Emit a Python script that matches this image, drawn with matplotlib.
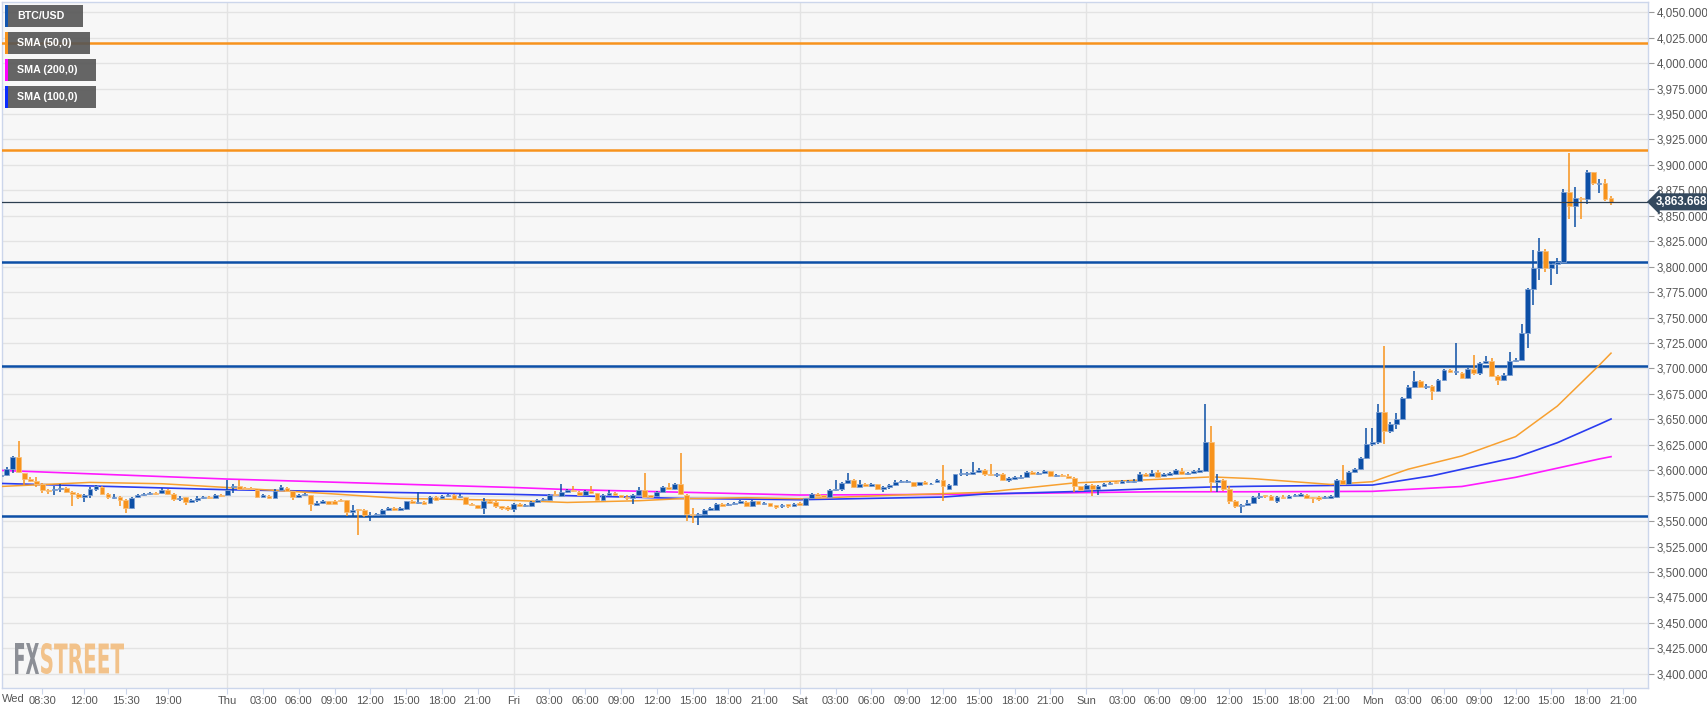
import numpy as np
import pandas as pd
import matplotlib
matplotlib.use('Agg')
import matplotlib.pyplot as plt
from matplotlib.patches import Rectangle, PathPatch
from matplotlib.textpath import TextPath
from matplotlib.font_manager import FontProperties
from matplotlib.ticker import FuncFormatter
from matplotlib.transforms import Affine2D, blended_transform_factory, offset_copy

plt.rcParams['font.family'] = ['Liberation Sans', 'DejaVu Sans']

# BTC/USD 30 minute candles, from Wed 05:00 to Mon 20:00
start = pd.Timestamp('2019-02-13 05:00')

opens = [
    3594, 3595, 3601.5, 3612.5, 3597, 3591, 3589.5, 3586, 3581, 3580.5,
    3581.5, 3582.5, 3579, 3577, 3574, 3575.5, 3581.5, 3583.5, 3577, 3573,
    3573.5, 3571, 3563, 3573.5, 3576, 3577, 3577.5, 3577.5, 3581, 3577,
    3572, 3573.5, 3568.5, 3571, 3572.5, 3574, 3573, 3575.5, 3575.5, 3583,
    3584, 3582.5, 3582, 3581, 3574, 3575, 3573, 3581, 3582.5, 3579.5,
    3574, 3575.5, 3575.5, 3566, 3567.5, 3569.5, 3569.5, 3570.5, 3570.5, 3559,
    3561, 3561, 3555.5, 3556, 3557, 3561, 3563, 3560.5, 3562, 3569.5,
    3568, 3568.5, 3568, 3573.5, 3573, 3575, 3575.5, 3573.5, 3573.5, 3567,
    3565.5, 3563, 3569.5, 3569, 3564.5, 3563.5, 3562, 3567, 3564.5, 3564.5,
    3569, 3570.5, 3571, 3576, 3575, 3579, 3581, 3579, 3576, 3579.5,
    3577.5, 3570.5, 3575.5, 3578, 3575.5, 3573.5, 3572.5, 3575.5, 3581, 3575.5,
    3575, 3579, 3583, 3581.5, 3586, 3576, 3557, 3556, 3556.5, 3560.5,
    3561, 3567, 3565.5, 3566.5, 3567.5, 3569, 3565, 3569.5, 3566.5, 3567.5,
    3565.5, 3564.5, 3566.5, 3564.5, 3567.5, 3565.5, 3573, 3577, 3575.5, 3573.5,
    3581, 3581.5, 3587, 3590.5, 3583.5, 3586.5, 3584.5, 3586, 3581.5, 3583,
    3585, 3588, 3588, 3588, 3585.5, 3588, 3586, 3588, 3590, 3582,
    3585.5, 3596, 3596, 3596.5, 3598, 3600.5, 3596.5, 3595, 3596.5, 3590,
    3591.5, 3592.5, 3593.5, 3598, 3596, 3597, 3599, 3594, 3595, 3594.5,
    3592.5, 3584, 3581.5, 3585.5, 3582, 3584, 3586, 3588, 3587, 3588,
    3588, 3589.5, 3596, 3594.5, 3598.5, 3594.5, 3595.5, 3596, 3599, 3596,
    3597, 3598.5, 3599, 3627.5, 3588.5, 3590, 3581.5, 3570, 3564.5, 3565.5,
    3567.5, 3574, 3575, 3575, 3570, 3574, 3573, 3574.5, 3575, 3576,
    3573, 3573.5, 3572.5, 3572.5, 3573.5, 3590.5, 3586, 3598.5, 3601.5, 3612,
    3626, 3628, 3657.5, 3638.5, 3645.5, 3650.5, 3671, 3682, 3688, 3682,
    3683, 3678, 3689, 3698, 3696.5, 3695, 3691, 3699.5, 3695, 3705.5,
    3707, 3693, 3688.5, 3694, 3707, 3708, 3735, 3778, 3799, 3815.5,
    3798.5, 3803, 3805, 3873.5, 3860, 3867, 3866.5, 3892.5, 3881, 3882,
    3867,
]
closes = [
    3595.5, 3601, 3612.5, 3598.5, 3591, 3589.5, 3586, 3581, 3579.5, 3581,
    3582, 3579, 3577, 3573.5, 3576, 3581.5, 3584, 3577, 3573.5, 3574,
    3570.5, 3563, 3573, 3575.5, 3577, 3578, 3577, 3581, 3577, 3571.5,
    3573, 3568.5, 3571, 3572.5, 3574, 3572.5, 3575.5, 3575, 3581, 3584,
    3582, 3581.5, 3581.5, 3574, 3575.5, 3573, 3579.5, 3583, 3579.5, 3573.5,
    3576, 3576.5, 3566.5, 3567.5, 3569.5, 3567, 3567, 3570, 3559, 3561,
    3560.5, 3555.5, 3556, 3557, 3561, 3563, 3560.5, 3562.5, 3569.5, 3568,
    3569, 3567, 3573.5, 3571, 3575, 3575.5, 3571.5, 3574.5, 3567, 3565.5,
    3563, 3569.5, 3567.5, 3564.5, 3562.5, 3562, 3567, 3564.5, 3565.5, 3569,
    3570.5, 3571.5, 3576, 3575.5, 3579, 3580.5, 3579.5, 3576, 3579.5, 3577.5,
    3570.5, 3575.5, 3578, 3575.5, 3573.5, 3573, 3575.5, 3581, 3573.5, 3573.5,
    3579, 3583, 3581.5, 3586, 3577, 3557, 3556, 3556.5, 3560.5, 3562.5,
    3567, 3565, 3567, 3567.5, 3569.5, 3564.5, 3569.5, 3566.5, 3567.5, 3565,
    3564, 3566, 3564.5, 3567, 3565.5, 3572.5, 3577, 3575, 3573.5, 3581,
    3582, 3587.5, 3590.5, 3583.5, 3586.5, 3584, 3586, 3581.5, 3583, 3585.5,
    3588, 3589, 3589, 3584.5, 3588, 3586, 3586.5, 3590, 3584, 3585.5,
    3596, 3597, 3597, 3598.5, 3600.5, 3596.5, 3595, 3596.5, 3590, 3592.5,
    3593.5, 3593.5, 3598, 3596.5, 3596.5, 3599, 3594, 3595, 3594, 3592,
    3584, 3581, 3585.5, 3581.5, 3584, 3586, 3587.5, 3587, 3589, 3589,
    3589.5, 3596, 3594, 3597, 3593.5, 3596.5, 3597, 3600, 3596, 3597.5,
    3599, 3600.5, 3627.5, 3588.5, 3590, 3581.5, 3570, 3564.5, 3566, 3567.5,
    3573.5, 3575, 3574.5, 3570.5, 3573.5, 3572.5, 3575, 3576, 3576.5, 3573,
    3572.5, 3572, 3573, 3574.5, 3590.5, 3586, 3598.5, 3601, 3612, 3626,
    3628, 3657.5, 3638.5, 3645.5, 3650.5, 3671, 3682, 3688, 3682, 3682.5,
    3678, 3689, 3698, 3696.5, 3696.5, 3691, 3699.5, 3695, 3705.5, 3707,
    3693, 3688.5, 3694, 3707.5, 3708.5, 3734.5, 3778, 3799, 3815.5, 3798.5,
    3803, 3805, 3873.5, 3860, 3867, 3866.5, 3892.5, 3882, 3882.5, 3866,
    3863.668,
]
highs = [
    3597, 3603, 3614, 3629, 3597.5, 3593, 3593, 3587, 3582, 3584,
    3586, 3583, 3580, 3578, 3577, 3583.5, 3585.5, 3584.5, 3578, 3577,
    3574.5, 3572, 3574, 3577, 3578, 3579, 3578.5, 3582.5, 3581.5, 3577.5,
    3574.5, 3574, 3572, 3574.5, 3575, 3575, 3576.5, 3577, 3590, 3586,
    3590, 3583.5, 3583, 3581.5, 3576.5, 3576, 3581.5, 3585.5, 3583.5, 3580,
    3577, 3578, 3576, 3570, 3571, 3570, 3570.5, 3571.5, 3571, 3565.5,
    3562, 3562, 3558.5, 3558, 3562, 3564, 3564, 3563.5, 3570, 3570.5,
    3579, 3569.5, 3574.5, 3574.5, 3576, 3576.5, 3576.5, 3577, 3574, 3568,
    3566, 3573, 3570.5, 3569.5, 3565, 3564.5, 3568, 3568, 3566.5, 3570,
    3571.5, 3573, 3577, 3579.5, 3586, 3582, 3584, 3579.5, 3580.5, 3584,
    3578, 3576.5, 3581, 3578.5, 3576, 3575.5, 3576.5, 3583.5, 3597, 3576,
    3580, 3584, 3587, 3587, 3617, 3577, 3563, 3557.5, 3561.5, 3563.5,
    3567.5, 3568, 3568, 3569, 3570.5, 3569.5, 3570.5, 3570, 3568.5, 3568,
    3566, 3567, 3567, 3568, 3568.5, 3573, 3578, 3578, 3576, 3581.5,
    3590, 3588.5, 3597, 3591, 3590, 3587.5, 3587, 3586.5, 3584, 3586.5,
    3590.5, 3590, 3590.5, 3588.5, 3588.5, 3589, 3587.5, 3591, 3605, 3586,
    3596.5, 3601, 3598, 3608, 3602, 3601, 3606, 3597.5, 3597, 3593.5,
    3594.5, 3595, 3599, 3599, 3598, 3600.5, 3599.5, 3596, 3596, 3596,
    3593, 3584.5, 3586.5, 3586, 3585, 3587, 3588.5, 3589, 3590, 3590,
    3591, 3598.5, 3597, 3600, 3600.5, 3597.5, 3598, 3601.5, 3602, 3598.5,
    3600, 3602, 3665.5, 3643, 3596, 3591, 3584, 3571, 3567, 3571,
    3574.5, 3578, 3576, 3576, 3574.5, 3575.5, 3576, 3577, 3577.5, 3576.5,
    3574, 3574.5, 3574.5, 3576, 3591.5, 3605, 3599.5, 3602, 3613, 3641,
    3641, 3665, 3722, 3647, 3656, 3672, 3684, 3697, 3689, 3685,
    3684, 3689.5, 3699, 3699, 3725, 3696, 3700.5, 3713, 3706, 3712,
    3710, 3694, 3695, 3716, 3710, 3744, 3779, 3816, 3828, 3817,
    3804, 3808, 3876, 3912, 3878, 3868, 3895, 3893, 3886, 3886,
    3869,
]
lows = [
    3592, 3594, 3597, 3597, 3585, 3588, 3583, 3578, 3576.5, 3576,
    3579, 3578, 3564.5, 3571.5, 3568.5, 3572.5, 3580, 3576, 3572, 3572,
    3564.5, 3558, 3562, 3572.5, 3575, 3576, 3576, 3577, 3576, 3570,
    3569.5, 3566, 3567.5, 3568.5, 3571.5, 3572, 3572.5, 3573.5, 3574.5, 3578,
    3581.5, 3580.5, 3580.5, 3572.5, 3573.5, 3572, 3572.5, 3580, 3579, 3571,
    3573, 3574.5, 3560, 3564.5, 3567, 3566, 3566.5, 3569, 3555, 3555,
    3536, 3554.5, 3550, 3555, 3556, 3560, 3559.5, 3559.5, 3561, 3567,
    3567, 3566, 3567, 3570, 3571.5, 3574, 3571, 3573, 3566, 3564.5,
    3562, 3557, 3566.5, 3563, 3561, 3560, 3558.5, 3563.5, 3563.5, 3564,
    3568, 3569.5, 3570.5, 3574.5, 3574, 3578, 3578.5, 3575, 3575, 3577,
    3569.5, 3569.5, 3575, 3574.5, 3572.5, 3570.5, 3567, 3575, 3573, 3572.5,
    3574, 3578.5, 3581, 3581, 3576, 3550, 3548.5, 3546.5, 3556, 3559.5,
    3560.5, 3564, 3565, 3565.5, 3567, 3563.5, 3564, 3565.5, 3565.5, 3564,
    3561.5, 3562.5, 3563, 3563.5, 3564.5, 3564.5, 3572.5, 3574.5, 3572.5, 3572.5,
    3580, 3580, 3586, 3582.5, 3583, 3583.5, 3583.5, 3580.5, 3578.5, 3582,
    3584.5, 3587, 3587, 3583.5, 3584.5, 3585, 3585.5, 3587.5, 3570, 3580.5,
    3585, 3594, 3594.5, 3595.5, 3597, 3594.5, 3594, 3593.5, 3589, 3588.5,
    3590.5, 3591.5, 3593, 3595.5, 3595, 3596, 3593, 3593, 3593, 3591,
    3578.5, 3579.5, 3580.5, 3575, 3575.5, 3583, 3585, 3586, 3586, 3587,
    3587, 3589, 3593, 3594, 3592.5, 3593.5, 3594.5, 3595.5, 3595.5, 3595,
    3596, 3597.5, 3598.5, 3578.5, 3578.5, 3580, 3567, 3563, 3557.5, 3564.5,
    3567, 3572, 3573, 3569.5, 3568, 3571.5, 3572, 3573.5, 3574.5, 3572,
    3568, 3570, 3571.5, 3571.5, 3573, 3585, 3585.5, 3597.5, 3600.5, 3611,
    3624, 3625.5, 3625.5, 3637, 3640, 3650, 3670, 3681, 3681, 3680,
    3669, 3677, 3688, 3695, 3694, 3690, 3690, 3694, 3694, 3704,
    3692, 3684, 3687.5, 3693, 3706, 3720, 3720, 3762, 3787, 3795,
    3782, 3793, 3804, 3847, 3839, 3847, 3862, 3880, 3872, 3864,
    3861,
]

# moving averages at some candles
sma50_idx = [0, 15, 27, 38, 55, 67, 86, 95, 107, 114, 125, 134, 150, 165, 180, 194,
             203, 210, 223, 230, 236, 245, 254, 261, 268, 270]
sma50_val = [3584, 3588, 3586.7, 3583, 3577, 3572.3, 3570.3, 3568.3, 3570, 3572, 3573,
             3572, 3575.5, 3578.3, 3587.5, 3591, 3593.4, 3591.7, 3586, 3588.7, 3601,
             3614, 3633, 3663, 3703, 3715]
sma100_idx = [0, 38, 86, 95, 114, 134, 158, 165, 180, 194, 203, 210, 230, 240, 254, 261, 268, 270]
sma100_val = [3587, 3580.8, 3576.2, 3575, 3572.3, 3571, 3573.6, 3576.6, 3579, 3582, 3583.5,
              3584.2, 3585.4, 3594.5, 3612.5, 3627, 3645, 3650.3]
sma200_idx = [0, 38, 86, 95, 134, 158, 182, 194, 209, 230, 245, 254, 268, 270]
sma200_val = [3599.8, 3591.3, 3583, 3581, 3575.6, 3576.2, 3578, 3578.8, 3578.8, 3579.2,
              3584, 3593, 3611, 3613.3]

orange_levels = [4020, 3915]
blue_levels = [3805, 3702, 3555]

tick_times = ['2019-02-13 08:30', '2019-02-13 12:00', '2019-02-13 15:30', '2019-02-13 19:00']
tick_labels = ['08:30', '12:00', '15:30', '19:00']
for day, name in zip(pd.date_range('2019-02-14', periods=5, freq='D'),
                     ['Thu', 'Fri', 'Sat', 'Sun', 'Mon']):
    for hh in range(0, 24, 3):
        tick_times.append(str(day + pd.Timedelta(hours=hh)))
        tick_labels.append(name if hh == 0 else f'{hh:02d}:00')

assert len(opens) == len(closes) == len(highs) == len(lows)

BLUE = '#0c4fa6'
ORANGE = '#f7931d'

W, H = 1707, 712
fig = plt.figure(figsize=(W / 100, H / 100), dpi=100)
fig.patch.set_facecolor('white')
ax = fig.add_axes([2 / W, 1 - 688 / H, (1648 - 2) / W, (688 - 2) / H])
ax.set_facecolor('#f7f7f7')

def to_idx(t):
    return (pd.Timestamp(t) - start) / pd.Timedelta(minutes=30)

ax.set_xlim(0.23, 276.2)
ax.set_ylim(3386, 4060)

# grid
ax.set_yticks(np.arange(3400, 4051, 25))
ax.yaxis.grid(True, color='#e3e3e3', lw=1, zorder=0)
for t, lab in zip(tick_times, tick_labels):
    if lab in ('Thu', 'Fri', 'Sat', 'Sun', 'Mon'):
        ax.axvline(to_idx(t), color='#e3e3e3', lw=1, zorder=0)

# levels
for v in orange_levels:
    ax.axhline(v, color=ORANGE, lw=1.8, zorder=3)
for v in blue_levels:
    ax.axhline(v, color=BLUE, lw=1.8, zorder=3)

# moving averages
ax.plot(sma200_idx, sma200_val, color='#ff1aff', lw=1.2, zorder=4)
ax.plot(sma100_idx, sma100_val, color='#2a3cf0', lw=1.2, zorder=4)
ax.plot(sma50_idx, sma50_val, color='#f7a030', lw=1.1, zorder=4)

# candles
o = np.array(opens)
c = np.array(closes)
hi = np.array(highs)
lo = np.array(lows)
x = np.arange(len(o))
up = c >= o
col = np.where(up, BLUE, ORANGE)
edge = np.where(up, '#7d9fd2', '#f9bf78')
ax.vlines(x, lo, hi, colors=col, lw=1.1, zorder=5)
ax.bar(x, np.maximum(np.abs(c - o), 0.9), 0.8, bottom=np.minimum(o, c),
       color=col, edgecolor=edge, lw=0.6, zorder=6)

# last price line and tag
ax.axhline(closes[-1], color='#2c3e50', lw=0.9, zorder=7)
tr = blended_transform_factory(ax.transAxes, ax.transData)
ax.text(1.005, closes[-1], f'{closes[-1]:,.4f}', transform=tr, ha='left', va='center',
        color='white', fontsize=8.3, weight='bold', zorder=10, clip_on=False,
        bbox=dict(boxstyle='larrow,pad=0.22', fc='#34495e', ec='none'))

# axes styling
for s in ax.spines.values():
    s.set_color('#ccd6eb')
    s.set_linewidth(1)
ax.yaxis.tick_right()
ax.yaxis.set_major_formatter(FuncFormatter(lambda v, p: f'{v:,.4f}'))
ax.tick_params(axis='y', labelsize=8.3, labelcolor='#555555', color='#9a9a9a',
               length=4, pad=2)
ax.set_xticks([to_idx(t) for t in tick_times])
ax.set_xticklabels(tick_labels)
ax.tick_params(axis='x', labelsize=8, labelcolor='#555555', color='#ccd6eb',
               length=4, pad=2)
ax.text(0.2, 0, 'Wed', transform=offset_copy(blended_transform_factory(ax.transData, ax.transAxes),
                                              fig=fig, y=-6, units='dots'),
        ha='left', va='top', fontsize=8, color='#555555', clip_on=False)

# legend boxes
def px_rect(x0, y0, w, h, **kw):
    fig.add_artist(Rectangle((x0 / W, 1 - (y0 + h) / H), w / W, h / H,
                             transform=fig.transFigure, **kw))

legend = [('BTC/USD', 78, '#1256b0'), ('SMA (50,0)', 85, ORANGE),
          ('SMA (200,0)', 91, '#ff00ff'), ('SMA (100,0)', 91, '#0a2cff')]
for k, (lab, w, sc) in enumerate(legend):
    y0 = 5 + 27 * k
    px_rect(5, y0, w, 22, fc='#555555', ec='none', alpha=0.9, zorder=20)
    px_rect(5, y0, 3, 22, fc=sc, ec='none', zorder=21)
    fig.text(17 / W, 1 - (y0 + 11) / H, lab, ha='left', va='center', color='white',
             fontsize=7.7, weight='bold', zorder=22)

# FXSTREET logo
fp = FontProperties(family='DejaVu Sans', weight='bold')

def logo_part(s, x0, x1, color):
    tp = TextPath((0, 0), s, size=1, prop=fp)
    bb = tp.get_extents()
    sx = (x1 - x0) / bb.width
    sy = 31 / bb.height
    t = (Affine2D().translate(-bb.x0, -bb.y0).scale(sx / W, sy / H)
         .translate(x0 / W, (H - 674) / H) + fig.transFigure)
    fig.add_artist(PathPatch(tp, transform=t, fc=color, ec='none', zorder=2))

logo_part('FX', 15, 39, '#8c8f96')
logo_part('STREET', 41, 124, '#f2c28a')

fig.savefig('out.png', dpi=100)
